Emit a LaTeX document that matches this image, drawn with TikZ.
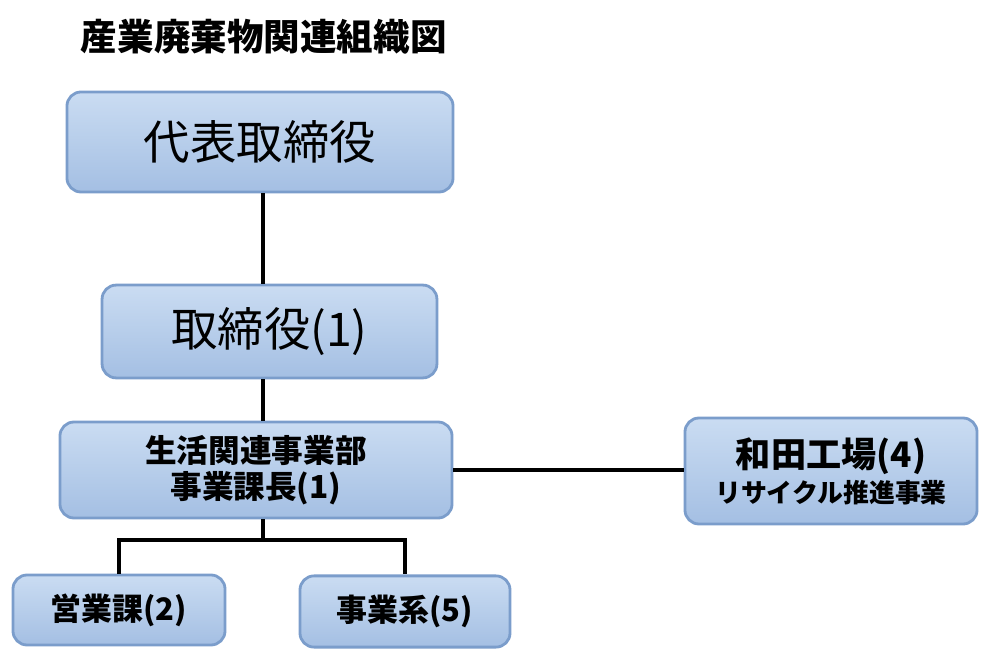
\documentclass[tikz,border=0pt]{standalone}
\usepackage{fontspec}
\newfontfamily\jp{Noto Sans CJK JP}
\usepackage{tikz}

\definecolor{boxtop}{HTML}{CADCF2}
\definecolor{boxbot}{HTML}{A4BFE3}
\definecolor{boxline}{HTML}{7B9DCB}

\tikzset{
	orgbox/.style={draw=boxline, line width=2pt, rounded corners=10pt,
		top color=boxtop, bottom color=boxbot, align=center, inner sep=0pt, font=\jp},
	link/.style={line width=2.3pt, black}
}

\begin{document}
\begin{tikzpicture}[x=0.025cm, y=-0.025cm]
	
	\useasboundingbox (0,0) rectangle (1000,669);
	%\draw[help lines] (0,0) grid[step=50] (1000,669);
	
	\node (title) at (76,37) [anchor=west, font=\jp\bfseries\fontsize{26}{28}\selectfont] {産業廃棄物関連組織図};
	
	\node (ceo) at (260,142) [orgbox, minimum width=9.65cm, minimum height=2.5cm, font=\jp\fontsize{33}{36}\selectfont] {代表取締役}; % 1
	
	\node (dir) at (269.5,331.5) [orgbox, minimum width=8.37cm, minimum height=2.32cm, font=\jp\fontsize{33}{36}\selectfont] {取締役(1)}; % 2
	
	\node (dept) at (256,470) [orgbox, minimum width=9.8cm, minimum height=2.4cm, font=\jp\bfseries\fontsize{22.5}{25.5}\selectfont] {生活関連事業部\\事業課長(1)}; % 3
	
	\node (wada) at (831,471) [orgbox, minimum width=7.3cm, minimum height=2.65cm] {{\bfseries\fontsize{25}{30}\selectfont 和田工場(4)}\\[3pt]{\bfseries\fontsize{18.4}{30}\selectfont リサイクル推進事業}}; % 4
	
	\node (sales) at (119,610) [orgbox, minimum width=5.3cm, minimum height=1.75cm, font=\jp\bfseries\fontsize{22}{24}\selectfont] {営業課(2)}; % 5
	
	\node (biz) at (405,611.5) [orgbox, minimum width=5.25cm, minimum height=1.78cm, font=\jp\bfseries\fontsize{22}{24}\selectfont] {事業系(5)}; % 6
	
	\coordinate (trunk) at (263,0);
	\coordinate (fork) at (263,540);
	
	\draw[link] (trunk |- ceo.south) -- (trunk |- dir.north);
	\draw[link] (trunk |- dir.south) -- (trunk |- dept.north);
	\draw[link] (dept.east) -- (dept.east -| wada.west);
	\draw[link] (trunk |- dept.south) -- (fork);
	\draw[link] (sales.north) |- (fork) -| (biz.north);

\end{tikzpicture}
\end{document}
